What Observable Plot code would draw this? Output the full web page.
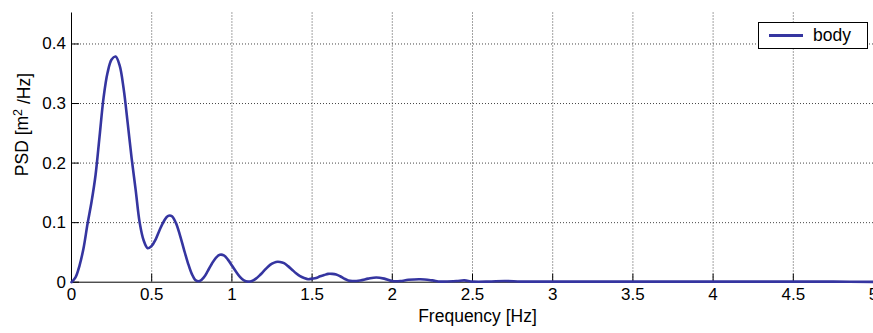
<!DOCTYPE html>
<html>
<head>
<meta charset="utf-8">
<script src="https://cdn.jsdelivr.net/npm/d3@7"></script>
<script src="https://cdn.jsdelivr.net/npm/@observablehq/plot@0.6"></script>
<style>
  html, body { margin: 0; padding: 0; background: #fff; }
  #wrap { position: relative; width: 873px; height: 333px; font-family: "Liberation Sans", Arial, sans-serif; }
  #legend { position: absolute; left: 758px; top: 22px; width: 108px; height: 25px; border: 1px solid #000; background: #fff; box-sizing: content-box; }
  #legend .swatch { position: absolute; left: 10px; top: 11px; width: 34px; height: 2.5px; background: #3535a0; }
  #legend .lab { position: absolute; left: 54px; top: 2px; font-size: 17.5px; color: #000; }
</style>
</head>
<body>
<div id="wrap"></div>
<script>
// Frequency (Hz) and PSD (m^2/Hz)
const freq = [0, 0.025, 0.05, 0.075, 0.1, 0.125, 0.15, 0.175, 0.2, 0.225, 0.25, 0.275, 0.3, 0.325, 0.35, 0.375, 0.4, 0.425, 0.45, 0.475,
  0.5, 0.525, 0.55, 0.575, 0.6, 0.625, 0.65, 0.675, 0.7, 0.725, 0.75, 0.775, 0.8, 0.825, 0.85, 0.875, 0.9, 0.925, 0.95, 0.975,
  1.0, 1.025, 1.05, 1.075, 1.1, 1.125, 1.15, 1.175, 1.2, 1.225, 1.25, 1.275, 1.3, 1.325, 1.35, 1.375, 1.4, 1.425, 1.45, 1.475,
  1.5, 1.525, 1.55, 1.575, 1.6, 1.625, 1.65, 1.675, 1.7, 1.725, 1.75, 1.8, 1.85, 1.9, 1.95, 2.0, 2.05, 2.1, 2.175, 2.25, 2.3,
  2.4, 2.45, 2.5, 2.6, 2.7, 2.8, 2.9, 3.0, 3.25, 3.5, 3.75, 4.0, 4.25, 4.5, 4.75, 5.0];
const psd = [0, 0.008, 0.028, 0.057, 0.098, 0.135, 0.18, 0.245, 0.31, 0.352, 0.374, 0.379, 0.364, 0.325, 0.268, 0.208, 0.155, 0.1, 0.07, 0.057,
  0.061, 0.072, 0.088, 0.102, 0.111, 0.111, 0.1, 0.08, 0.056, 0.033, 0.014, 0.003, 0.002, 0.008, 0.019, 0.031, 0.041, 0.046, 0.045, 0.038,
  0.028, 0.018, 0.009, 0.003, 0.001, 0.002, 0.006, 0.012, 0.019, 0.026, 0.031, 0.034, 0.034, 0.032, 0.027, 0.021, 0.015, 0.01, 0.007, 0.005,
  0.006, 0.007, 0.01, 0.012, 0.014, 0.014, 0.013, 0.01, 0.006, 0.003, 0.002, 0.003, 0.006, 0.008, 0.006, 0.002, 0.002, 0.004, 0.005, 0.003, 0.001,
  0.002, 0.003, 0.001, 0.001, 0.002, 0.001, 0.001, 0.001, 0.001, 0.001, 0.001, 0.001, 0.001, 0.001, 0.001, 0.0005];
const xTicks = [0, 0.5, 1, 1.5, 2, 2.5, 3, 3.5, 4, 4.5, 5];
const yTicks = [0, 0.1, 0.2, 0.3, 0.4];
const seriesName = "body";
const xLabel = "Frequency [Hz]";
const yLabelParts = ["PSD [m", "2", " /Hz]"];

const data = freq.map((f, i) => ({f, p: psd[i]}));
const font = "Liberation Sans, Arial, sans-serif";
const lineColor = "#3535a0";
const gridStyle = {stroke: "#333", strokeOpacity: 0.9, strokeDasharray: "1,2", strokeWidth: 1};

const chart = Plot.plot({
  width: 873,
  height: 333,
  marginLeft: 71,
  marginRight: 0,
  marginTop: 12.5,
  marginBottom: 51.3,
  style: {fontFamily: font, fontSize: "17px", background: "#fff", color: "#000"},
  x: {domain: [0, 5]},
  y: {domain: [0, 0.452]},
  marks: [
    Plot.gridX(xTicks.filter(d => d > 0), gridStyle),
    Plot.gridY(yTicks.filter(d => d > 0), gridStyle),
    Plot.ruleX(xTicks, {x: d => d, y1: 0, y2: 0.0135, stroke: "#000"}),
    Plot.ruleY(yTicks, {y: d => d, x1: 0, x2: 0.05, stroke: "#000"}),
    Plot.ruleX([0], {stroke: "#000"}),
    Plot.ruleY([0], {stroke: "#000"}),
    Plot.axisX(xTicks, {tickSize: 0, tickPadding: 5.5, fontSize: 17, label: null, tickFormat: d => String(d)}),
    Plot.axisY(yTicks, {tickSize: 0, tickPadding: 5.5, fontSize: 17, label: null, tickFormat: d => String(d)}),
    Plot.line(data, {x: "f", y: "p", stroke: lineColor, strokeWidth: 2.6, curve: "catmull-rom"}),
    Plot.text([xLabel], {frameAnchor: "bottom", dy: 40, dx: 5, fontSize: 17.5, fill: "#000"}),
    Plot.text([yLabelParts.join("")], {frameAnchor: "left", textAnchor: "middle", dx: -49, dy: -23, rotate: -90, fontSize: 17.5, fill: "#000", className: "ylab"})
  ]
});

// render the exponent as a raised superscript
const ylab = chart.querySelector(".ylab text");
if (ylab) {
  ylab.textContent = "";
  yLabelParts.forEach((part, i) => {
    const ts = document.createElementNS("http://www.w3.org/2000/svg", "tspan");
    ts.textContent = part;
    if (i === 1) { ts.setAttribute("dy", "-0.45em"); ts.setAttribute("font-size", "12.5"); }
    if (i === 2) { ts.setAttribute("dy", "0.45em"); }
    ylab.appendChild(ts);
  });
}

const wrap = document.getElementById("wrap");
wrap.appendChild(chart);
const legend = document.createElement("div");
legend.id = "legend";
legend.innerHTML = `<div class="swatch"></div><div class="lab"></div>`;
legend.querySelector(".lab").textContent = seriesName;
wrap.appendChild(legend);
</script>
</body>
</html>
